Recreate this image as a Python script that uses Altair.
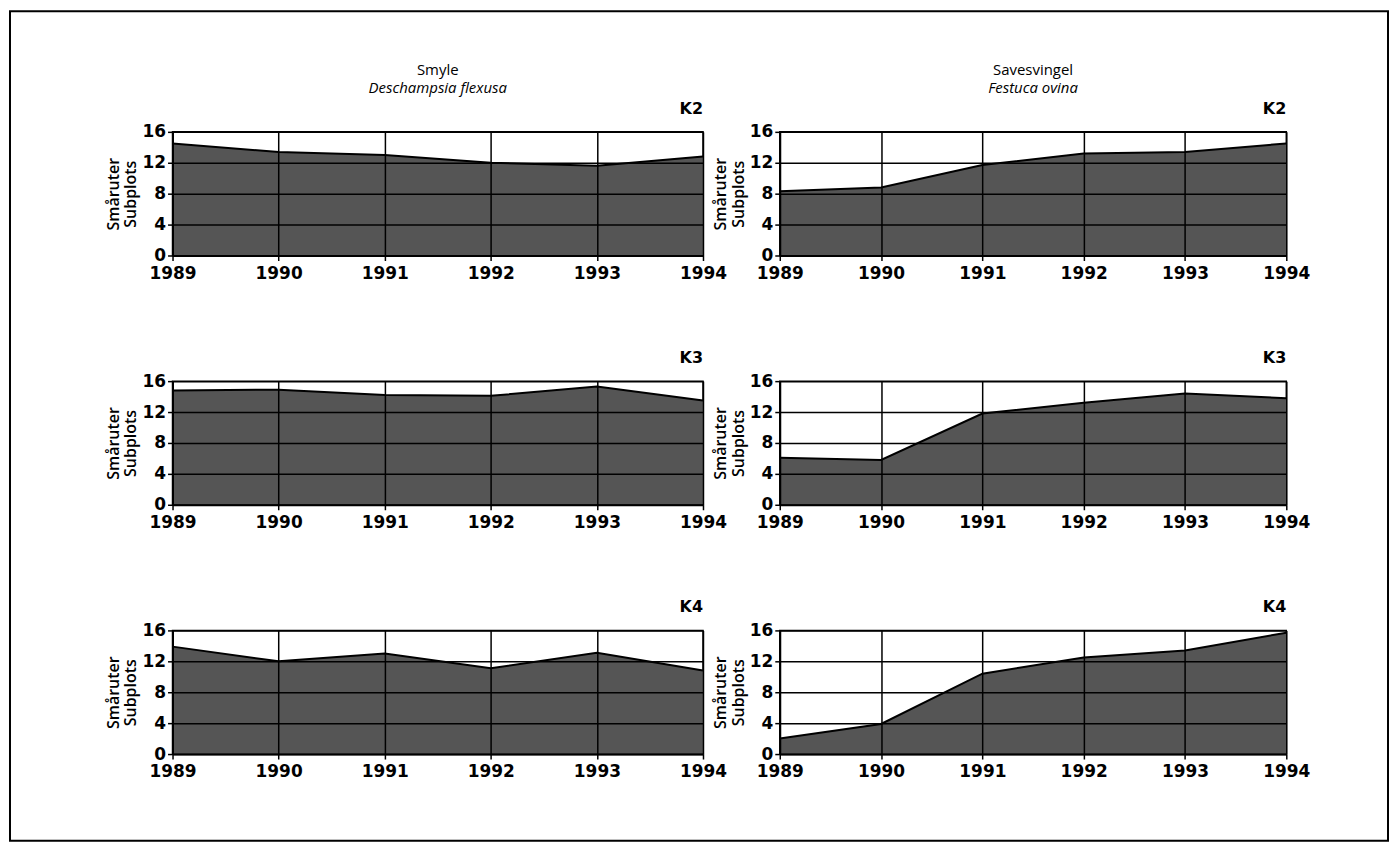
import altair as alt
import pandas as pd

years = [1989, 1990, 1991, 1992, 1993, 1994]

smyle_k2 = [14.5, 13.4, 13.0, 12.0, 11.6, 12.8]
smyle_k3 = [14.8, 14.9, 14.2, 14.1, 15.3, 13.5]
smyle_k4 = [13.9, 12.0, 13.0, 11.1, 13.1, 10.8]

save_k2 = [8.3, 8.8, 11.7, 13.2, 13.4, 14.5]
save_k3 = [6.1, 5.8, 11.8, 13.2, 14.4, 13.8]
save_k4 = [2.0, 3.9, 10.4, 12.5, 13.4, 15.7]

plots = ["K2", "K3", "K4"]
species_left = ["Smyle", "Deschampsia flexusa"]
species_right = ["Savesvingel", "Festuca ovina"]
y_ticks = [0, 4, 8, 12, 16]
y_title = ["Småruter", "Subplots"]

LABEL_FONT = "DejaVu Sans"
TITLE_FONT = "Open Sans"
FILL = "#555555"

LW, RW, H = 532, 508, 124


def panel(values, label, width, species=None, frame=False):
    df = pd.DataFrame({"year": years, "n": values})
    area = alt.Chart(df).mark_area(
        color=FILL, line={"color": "black", "strokeWidth": 2}, opacity=1
    ).encode(
        x=alt.X("year:Q", scale=alt.Scale(domain=[years[0], years[-1]], nice=False),
                axis=alt.Axis(values=years, format="d", title=None, zindex=1)),
        y=alt.Y("n:Q", scale=alt.Scale(domain=[0, 16], nice=False),
                axis=alt.Axis(values=y_ticks, title=y_title, zindex=1)),
    )
    ktext = alt.Chart(pd.DataFrame({"k": [label]})).mark_text(
        align="right", baseline="alphabetic", font=LABEL_FONT, fontSize=16,
        fontWeight="bold", color="black"
    ).encode(x=alt.value(width), y=alt.value(-18), text="k:N")
    layers = [area, ktext]
    if frame:
        border = alt.Chart(pd.DataFrame({"a": [0]})).mark_rect(
            filled=False, stroke="black", strokeWidth=2, clip=False
        ).encode(
            x=alt.value(-163), x2=alt.value(1219),
            y=alt.value(-621), y2=alt.value(211),
        )
        layers.append(border)
    props = dict(width=width, height=H)
    if species:
        props["title"] = alt.TitleParams(
            species[0], subtitle=species[1], subtitleFontStyle="italic",
            anchor="middle", frame="group", fontSize=15, subtitleFontSize=15,
            font=TITLE_FONT, subtitleFont=TITLE_FONT, fontWeight="normal",
            color="black", subtitleColor="black", subtitlePadding=3, offset=5,
        )
    return alt.layer(*layers).properties(**props)


chart = alt.concat(
    panel(smyle_k2, plots[0], LW, species=species_left),
    panel(save_k2, plots[0], RW, species=species_right),
    panel(smyle_k3, plots[1], LW),
    panel(save_k3, plots[1], RW),
    panel(smyle_k4, plots[2], LW, frame=True),
    panel(save_k4, plots[2], RW),
    columns=2, bounds="flush", spacing={"row": 126, "column": 77},
).properties(
    padding=0, background="white"
).configure_view(
    stroke="black", strokeWidth=1.5
).configure_axis(
    zindex=1,
    grid=True, gridColor="black", gridOpacity=1, gridWidth=1.5,
    domainColor="black", domainWidth=2,
    tickColor="black", tickSize=5, tickWidth=1.5,
    labelFont=LABEL_FONT, labelFontSize=17, labelColor="black", labelFontWeight="bold",
    titleFont=TITLE_FONT, titleFontSize=16, titleColor="black", titleFontWeight=600,
    titleLineHeight=18,
).configure_axisY(
    labelPadding=2, titlePadding=3, labelFlush=False,
).configure_axisX(
    labelPadding=5, labelFlush=False,
)

chart.save("out.html", embed_options={"renderer": "svg", "actions": False})
